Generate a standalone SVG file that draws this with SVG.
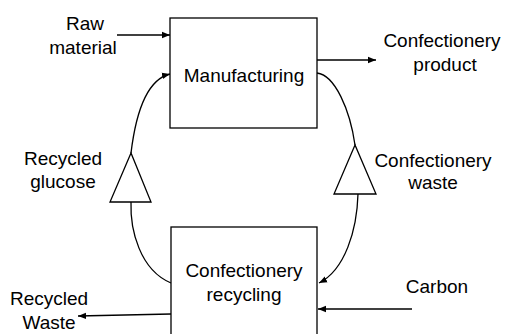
<svg xmlns="http://www.w3.org/2000/svg" width="506" height="334" viewBox="0 0 506 334">
<defs>
<marker id="ah" viewBox="0 0 10 10" refX="10" refY="5" markerWidth="8" markerHeight="8" markerUnits="userSpaceOnUse" orient="auto">
<path d="M0,1 L10,5 L0,9 z" fill="#000"/>
</marker>
</defs>
<style>
text{font-family:"Liberation Sans",Arial,sans-serif;font-size:19px;fill:#000;text-anchor:middle}
.box{fill:#fff;stroke:#000;stroke-width:1.3}
.ln{fill:none;stroke:#000;stroke-width:1.3}
.tri{fill:#fff;stroke:#000;stroke-width:1.3}
</style>
<rect width="506" height="334" fill="#fff"/>
<g id="connectors">
<line class="ln" x1="117" y1="35" x2="170" y2="35" marker-end="url(#ah)"/>
<line class="ln" x1="317" y1="60" x2="376" y2="60" marker-end="url(#ah)"/>
<path class="ln" d="M171,283 C140,270 130,230 131,202"/>
<path class="ln" d="M131,153 C135,120 145,80 170,74" marker-end="url(#ah)"/>
<path class="ln" d="M317,73 C335,75 350,110 355,145"/>
<path class="ln" d="M358,194 C357,230 345,270 319,283" marker-end="url(#ah)"/>
<line class="ln" x1="412" y1="309" x2="318" y2="309" marker-end="url(#ah)"/>
<line class="ln" x1="171" y1="314" x2="78" y2="316" marker-end="url(#ah)"/>
</g>
<g id="glucose-triangle"><polygon class="tri" points="131,153 110,202 151,202"/></g>
<g id="waste-triangle"><polygon class="tri" points="355,145 334,194 376,194"/></g>
<g id="manufacturing">
<rect class="box" x="170" y="18" width="147" height="110"/>
<text x="244" y="82">Manufacturing</text>
</g>
<g id="recycling">
<rect class="box" x="171" y="227" width="146" height="120"/>
<text x="244" y="277">Confectionery</text>
<text x="244" y="301">recycling</text>
</g>
<g id="raw-material">
<text x="85" y="30">Raw</text>
<text x="83" y="54">material</text>
</g>
<g id="product">
<text x="442" y="47">Confectionery</text>
<text x="445" y="71">product</text>
</g>
<g id="recycled-glucose">
<text x="63" y="165">Recycled</text>
<text x="63" y="188">glucose</text>
</g>
<g id="confectionery-waste">
<text x="433" y="167">Confectionery</text>
<text x="433" y="189">waste</text>
</g>
<g id="carbon">
<text x="437" y="293">Carbon</text>
</g>
<g id="recycled-waste">
<text x="49" y="305">Recycled</text>
<text x="49" y="329">Waste</text>
</g>
</svg>
